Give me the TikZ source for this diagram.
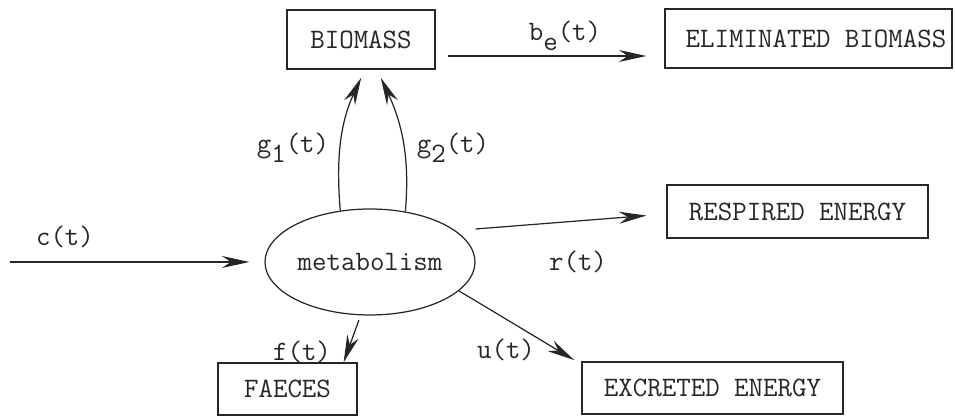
\documentclass[tikz,border=0pt]{standalone}
\usepackage{fontspec}
\usetikzlibrary{shapes.geometric,arrows.meta}
\newcommand{\lowidx}[1]{\raisebox{-0.8ex}{#1}}

\begin{document}
\begin{tikzpicture}[font=\ttfamily\fontsize{16}{18}\selectfont, line width=0.7pt, color=black!85]
    \tikzstyle{box} = [rectangle,draw,inner sep=0pt]
    \tikzstyle{flow} = [-{Stealth[length=5.5mm,width=2.4mm,inset=1.8mm]}]
    \useasboundingbox (0,0) rectangle (19.1,8.32);

    \node[box, minimum width=2.96cm, minimum height=1.18cm] (bio) at (7.22, 7.53) {BIOMASS};
    \node[box, minimum width=5.74cm, minimum height=1.18cm] (elim) at (16.17, 7.55) {\hspace{0.3cm}ELIMINATED BIOMASS};

    \node[draw, ellipse, minimum width=4.2cm, minimum height=2.12cm, inner sep=0pt] (met) at (7.4, 3.08) {metabolism};
    \node[box, minimum width=5.22cm, minimum height=1.06cm] (resp) at (15.95, 4.09) {RESPIRED ENERGY};

    \node[box, minimum width=2.78cm, minimum height=1.04cm] (faec) at (5.75, 0.54) {FAECES};
    \node[box, minimum width=5.22cm, minimum height=1.04cm] (excr) at (14.25, 0.56) {EXCRETED ENERGY};

    \coordinate (cin) at (0.2, 3.08);

    % labels
    \node (lc) at (1.3, 3.58) {c(t)};
    \node (lb) at (11.3, 7.6) {b\lowidx{e}(t)};
    \node (lg1) at (5.86, 5.36) {g\lowidx{1}(t)};
    \node (lg2) at (9.06, 5.36) {g\lowidx{2}(t)};
    \node (lr) at (11.56, 3.08) {r(t)};
    \node (lu) at (10.12, 1.32) {u(t)};
    \node (lf) at (6.04, 1.28) {f(t)};

    \draw [flow, shorten >=0.3cm] (cin) -- (met.west);
    \draw [flow, shorten <=0.24cm, shorten >=0.36cm] ([yshift=-0.33cm]bio.east) -- ([yshift=-0.35cm]elim.west);
    \draw [flow, shorten >=0.18cm] (met.120) to[out=95, in=245] ([xshift=0.08cm]bio.south);
    \draw [flow, shorten >=0.18cm] (met.55) to[out=85, in=295] ([xshift=0.32cm]bio.south);
    \draw [flow, shorten >=0.4cm] ([yshift=0.66cm]met.east) -- ([yshift=-0.05cm]resp.west);
    \draw [flow, shorten >=0.05cm] (met.-18) -- ([xshift=-0.1cm]excr.north west);
    \draw [flow, shorten <=0.1cm] (met.-100) -- ([xshift=-0.28cm]faec.north east);
\end{tikzpicture}
\end{document}
